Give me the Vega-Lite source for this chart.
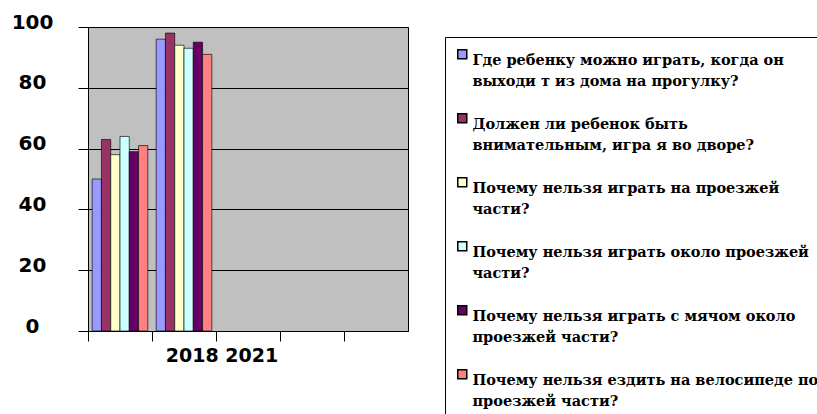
{
  "$schema": "https://vega.github.io/schema/vega-lite/v6.json",
  "autosize": {"type": "none"},
  "width": 320,
  "height": 304,
  "padding": {"left": 88, "top": 27, "right": 409, "bottom": 83},
  "background": "white",
  "data": {
    "values": [
      {"year": "2018", "question": "Где ребенку можно играть, когда он\nвыходи т из дома на прогулку?", "value": 50},
      {"year": "2018", "question": "Должен ли ребенок быть\nвнимательным, игра я во дворе?", "value": 63},
      {"year": "2018", "question": "Почему нельзя играть на проезжей\nчасти?", "value": 58},
      {"year": "2018", "question": "Почему нельзя играть около проезжей\nчасти?", "value": 64},
      {"year": "2018", "question": "Почему нельзя играть с мячом около\nпроезжей части?", "value": 59},
      {"year": "2018", "question": "Почему нельзя ездить на велосипеде по\nпроезжей части?", "value": 61},
      {"year": "2021", "question": "Где ребенку можно играть, когда он\nвыходи т из дома на прогулку?", "value": 96},
      {"year": "2021", "question": "Должен ли ребенок быть\nвнимательным, игра я во дворе?", "value": 98},
      {"year": "2021", "question": "Почему нельзя играть на проезжей\nчасти?", "value": 94},
      {"year": "2021", "question": "Почему нельзя играть около проезжей\nчасти?", "value": 93},
      {"year": "2021", "question": "Почему нельзя играть с мячом около\nпроезжей части?", "value": 95},
      {"year": "2021", "question": "Почему нельзя ездить на велосипеде по\nпроезжей части?", "value": 91}
    ]
  },
  "mark": {"type": "bar", "stroke": "#000000", "strokeWidth": 0.8, "strokeOpacity": 0.8},
  "encoding": {
    "x": {
      "field": "year",
      "type": "nominal",
      "scale": {"domain": ["2018", "2021", "s3", "s4", "s5"], "paddingInner": 0, "paddingOuter": 0},
      "axis": {
        "title": null,
        "bandPosition": 0,
        "labelAngle": 0,
        "labelExpr": "datum.value == 's3' ? '2018 2021' : ''",
        "labelFont": "DejaVu Sans",
        "labelFontWeight": "bold",
        "labelFontSize": 19,
        "labelColor": "#000000",
        "labelOffset": -26,
        "labelPadding": 5,
        "labelLimit": 300,
        "tickSize": 10,
        "tickColor": "#000000",
        "domainColor": "#000000",
        "grid": false
      }
    },
    "xOffset": {
      "field": "question",
      "type": "nominal",
      "sort": null,
      "scale": {"paddingInner": 0, "paddingOuter": 0.45}
    },
    "y": {
      "field": "value",
      "type": "quantitative",
      "scale": {"domain": [0, 100]},
      "axis": {
        "title": null,
        "values": [0, 20, 40, 60, 80, 100],
        "labelFont": "DejaVu Sans",
        "labelFontWeight": "bold",
        "labelFontSize": 20,
        "labelColor": "#000000",
        "labelAlign": "center",
        "labelPadding": 46,
        "labelOffset": -5,
        "tickSize": 10,
        "tickColor": "#000000",
        "domainColor": "#000000",
        "grid": true,
        "gridColor": "#000000",
        "gridWidth": 1.2
      }
    },
    "color": {
      "field": "question",
      "type": "nominal",
      "sort": null,
      "scale": {"range": ["#9999FF", "#993366", "#FFFFCC", "#CCFFFF", "#660066", "#FF8080"]},
      "legend": {
        "title": null,
        "orient": "none",
        "legendX": 357,
        "legendY": 10,
        "direction": "vertical",
        "padding": 10,
        "strokeColor": "#000000",
        "fillColor": "#FFFFFF",
        "symbolType": "square",
        "symbolSize": 81,
        "symbolStrokeColor": "#000000",
        "symbolStrokeWidth": 1.5,
        "symbolBaseline": "top",
        "labelBaseline": "top",
        "labelExpr": "split(datum.label, '\\n')",
        "labelFont": "DejaVu Serif",
        "labelFontWeight": "bold",
        "labelFontSize": 14.5,
        "labelColor": "#000000",
        "labelOffset": 3,
        "labelLimit": 600,
        "rowPadding": 21,
        "encode": {"labels": {"update": {"lineHeight": {"value": 21}}}}
      }
    }
  },
  "config": {
    "view": {"fill": "#C0C0C0", "stroke": "#000000", "strokeWidth": 1}
  }
}
